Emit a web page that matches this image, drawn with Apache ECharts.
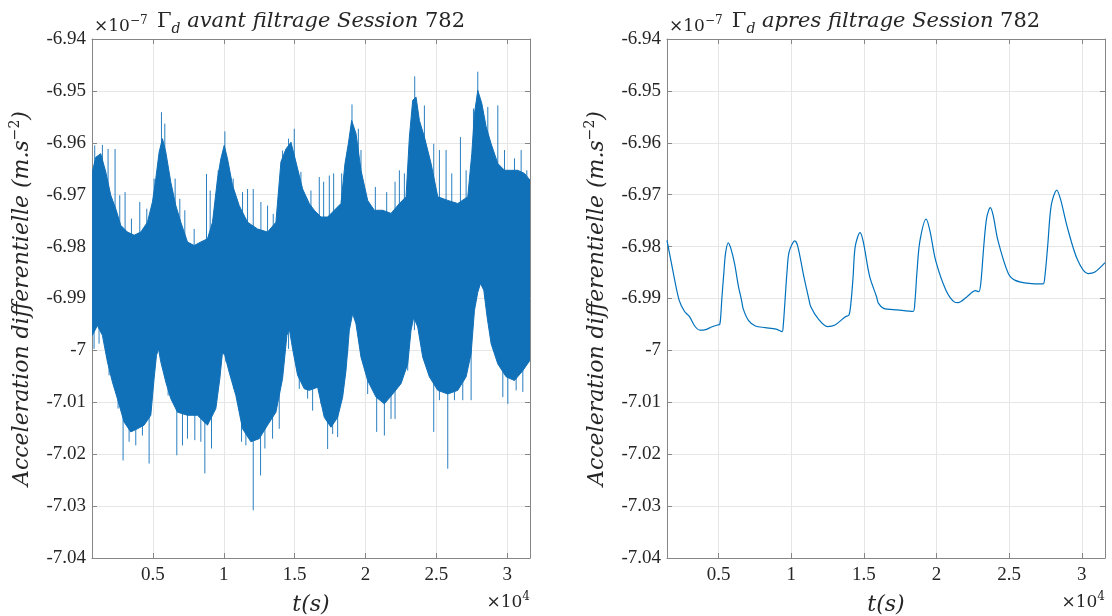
<!DOCTYPE html>
<html><head><meta charset="utf-8">
<script src="https://cdn.jsdelivr.net/npm/echarts@6/dist/echarts.min.js"></script>
<style>html,body{margin:0;padding:0;background:#fff}#c{width:1112px;height:616px}</style>
</head><body><div id="c"></div>
<script>
// Unfiltered signal, dense core of the noisy band: [t (s), value (x1e-7 m.s^-2)]
const bodyUpper = [[727,-6.9656],[963,-6.9628],[1316,-6.9621],[1669,-6.9656],[2022,-6.9701],[2375,-6.9727],[2728,-6.9759],[3199,-6.9772],[3670,-6.9778],[4141,-6.9772],[4612,-6.9753],[4965,-6.9714],[5201,-6.9669],[5436,-6.9618],[5671,-6.9592],[5907,-6.9618],[6260,-6.9676],[6613,-6.9721],[6966,-6.9753],[7436,-6.9791],[7907,-6.9798],[8378,-6.9791],[8849,-6.9785],[9202,-6.9753],[9555,-6.9669],[9790,-6.9631],[10026,-6.9605],[10262,-6.9631],[10615,-6.9682],[11085,-6.9721],[11674,-6.9753],[12380,-6.9766],[13086,-6.9772],[13675,-6.9753],[14028,-6.9637],[14381,-6.9612],[14737,-6.9599],[15087,-6.9637],[15557,-6.9689],[16029,-6.9717],[16382,-6.9730],[16853,-6.9743],[17323,-6.9743],[17794,-6.9730],[18265,-6.9717],[18547,-6.9640],[18783,-6.9602],[19018,-6.9557],[19324,-6.9582],[19677,-6.9653],[20148,-6.9711],[20619,-6.9730],[21208,-6.9730],[21796,-6.9736],[22385,-6.9717],[22855,-6.9704],[23091,-6.9589],[23326,-6.9518],[23562,-6.9512],[23797,-6.9557],[24150,-6.9589],[24621,-6.9640],[25092,-6.9704],[25798,-6.9711],[26504,-6.9717],[27210,-6.9704],[27493,-6.9621],[27681,-6.9544],[27916,-6.9499],[28199,-6.9524],[28505,-6.9569],[28858,-6.9602],[29329,-6.9640],[29800,-6.9653],[30270,-6.9653],[30741,-6.9653],[31212,-6.9659],[31600,-6.9672]];
const bodyLower = [[727,-6.9971],[1081,-6.9952],[1434,-6.9971],[1787,-7.0022],[2140,-7.0061],[2493,-7.0093],[2964,-7.0138],[3434,-7.0157],[3905,-7.0151],[4376,-7.0144],[4847,-7.0125],[5082,-7.0054],[5247,-7.0010],[5389,-6.9997],[5553,-7.0022],[5907,-7.0061],[6260,-7.0093],[6731,-7.0119],[7436,-7.0125],[8142,-7.0125],[8849,-7.0144],[9437,-7.0112],[9720,-7.0054],[9908,-7.0003],[10073,-7.0010],[10379,-7.0042],[10850,-7.0087],[11320,-7.0151],[11909,-7.0176],[12497,-7.0170],[13086,-7.0144],[13675,-7.0119],[14145,-7.0054],[14451,-6.9971],[14616,-6.9958],[14852,-6.9997],[15205,-7.0048],[15675,-7.0074],[16029,-7.0077],[16617,-7.0071],[17088,-7.0129],[17559,-7.0148],[18030,-7.0129],[18383,-7.0090],[18618,-7.0039],[18854,-6.9961],[19089,-6.9929],[19324,-6.9949],[19677,-7.0013],[20148,-7.0058],[20737,-7.0090],[21326,-7.0103],[21914,-7.0084],[22503,-7.0064],[22973,-7.0026],[23209,-6.9961],[23397,-6.9936],[23679,-6.9955],[24032,-7.0013],[24503,-7.0051],[25092,-7.0077],[25798,-7.0084],[26504,-7.0077],[27093,-7.0051],[27446,-7.0006],[27681,-6.9923],[27916,-6.9888],[28105,-6.9871],[28340,-6.9884],[28576,-6.9936],[28858,-6.9987],[29329,-7.0026],[29918,-7.0051],[30505,-7.0058],[31094,-7.0039],[31600,-7.0019]];
// Isolated noise spikes beyond the core: [t (s), tip value]
const spikesUp = [[892,-6.9605],[1434,-6.9604],[1834,-6.9612],[2328,-6.9612],[2658,-6.9701],[3034,-6.9695],[3482,-6.9746],[4070,-6.9714],[4564,-6.9727],[5082,-6.9669],[5600,-6.9541],[5836,-6.9563],[6565,-6.9669],[6895,-6.9708],[7248,-6.9730],[7907,-6.9766],[8778,-6.9660],[9037,-6.9692],[9602,-6.9653],[10073,-6.9578],[10661,-6.9669],[11320,-6.9695],[11674,-6.9689],[12074,-6.9689],[12615,-6.9714],[13086,-6.9721],[13486,-6.9737],[13910,-6.9695],[14145,-6.9615],[14568,-6.9592],[14969,-6.9573],[15440,-6.9656],[16146,-6.9692],[16735,-6.9666],[17041,-6.9675],[17441,-6.9663],[17747,-6.9659],[18312,-6.9659],[19042,-6.9526],[19489,-6.9573],[19677,-6.9614],[20690,-6.9685],[21490,-6.9695],[22079,-6.9675],[22385,-6.9653],[22738,-6.9659],[23467,-6.9472],[24150,-6.9528],[24809,-6.9602],[25209,-6.9614],[25680,-6.9614],[26080,-6.9659],[26692,-6.9589],[27093,-6.9653],[27611,-6.9534],[27916,-6.9463],[28623,-6.9531],[29329,-6.9528],[29800,-6.9614],[30505,-6.9630],[30976,-6.9614],[31376,-6.9653]];
const spikesDown = [[845,-6.9997],[1198,-6.9987],[1904,-7.0048],[2540,-7.0112],[2893,-7.0212],[3317,-7.0176],[3788,-7.0183],[4258,-7.0164],[4729,-7.0218],[6071,-7.0087],[6683,-7.0202],[7083,-7.0183],[7436,-7.0170],[7954,-7.0173],[8378,-7.0176],[8660,-7.0237],[9131,-7.0189],[10144,-7.0022],[10685,-7.0074],[11250,-7.0176],[11556,-7.0183],[12074,-7.0308],[12591,-7.0241],[12897,-7.0189],[13439,-7.0170],[13910,-7.0151],[14568,-6.9997],[15322,-7.0074],[15911,-7.0093],[16264,-7.0116],[16853,-7.0103],[17323,-7.0190],[17677,-7.0161],[18030,-7.0167],[18736,-7.0006],[19372,-6.9910],[20148,-7.0084],[20784,-7.0157],[21326,-7.0164],[21796,-7.0132],[22079,-7.0132],[22973,-7.0039],[23444,-6.9961],[24809,-7.0157],[25209,-7.0096],[25798,-7.0228],[26269,-7.0096],[26857,-7.0096],[27446,-7.0096],[29682,-7.0090],[30035,-7.0103],[30623,-7.0077],[31094,-7.0080]];
// Filtered signal [t (s), value (x1e-7 m.s^-2)]
const filtered = [[1440,-6.9788],[1800,-6.9840],[2275,-6.9903],[2650,-6.9925],[2991,-6.9935],[3350,-6.9953],[3707,-6.9961],[4100,-6.9960],[4500,-6.9955],[4900,-6.9951],[5067,-6.9950],[5150,-6.9930],[5210,-6.9903],[5350,-6.9852],[5470,-6.9813],[5663,-6.9793],[5850,-6.9805],[6093,-6.9833],[6350,-6.9875],[6570,-6.9903],[6689,-6.9920],[7047,-6.9942],[7524,-6.9953],[8200,-6.9956],[8956,-6.9959],[9362,-6.9964],[9450,-6.9950],[9552,-6.9910],[9700,-6.9850],[9850,-6.9810],[10244,-6.9789],[10450,-6.9800],[10865,-6.9858],[11223,-6.9903],[11342,-6.9916],[11819,-6.9938],[12487,-6.9954],[13012,-6.9951],[13728,-6.9935],[13967,-6.9932],[14100,-6.9910],[14250,-6.9860],[14400,-6.9800],[14730,-6.9773],[14950,-6.9790],[15398,-6.9858],[15875,-6.9897],[15995,-6.9909],[16353,-6.9919],[17307,-6.9922],[18381,-6.9925],[18500,-6.9910],[18650,-6.9850],[18850,-6.9790],[19287,-6.9747],[19550,-6.9770],[19932,-6.9826],[20648,-6.9884],[21244,-6.9907],[21482,-6.9908],[22079,-6.9897],[22675,-6.9885],[22914,-6.9887],[23050,-6.9870],[23250,-6.9800],[23450,-6.9745],[23701,-6.9725],[23900,-6.9740],[24226,-6.9788],[24942,-6.9852],[25419,-6.9865],[26374,-6.9871],[27328,-6.9872],[27450,-6.9860],[27650,-6.9800],[27900,-6.9720],[28283,-6.9691],[28550,-6.9710],[28998,-6.9762],[29714,-6.9826],[30430,-6.9852],[30907,-6.9849],[31600,-6.9831]];
// Axis ranges and ticks
const xRangeRaw = [700, 31600];
const xRangeFiltered = [1440, 31600];
const xTickValues = [5000, 10000, 15000, 20000, 25000, 30000];
const xTickLabels = ['0.5', '1', '1.5', '2', '2.5', '3'];
const yRange = [-7.04, -6.94];
const yStep = 0.01;

const AX = '#868686', GRID = '#e6e6e6', TXT = '#262626';
const TICKFONT = 'Liberation Serif';
const ITFONT = 'DejaVu Serif';
const BLUE = '#0072BD', BAND = '#1070b8', SPIKE = '#2a7fc0';

// spikes are drawn from their tip toward the inside of the core band (a level derived from the core data)
const coreLevel = (Math.min(...bodyUpper.map(p => p[1])) + Math.max(...bodyLower.map(p => p[1]))) / 2;

function xLabel(v) {
  const i = xTickValues.indexOf(Math.round(v));
  return (i >= 0 && Math.abs(v - xTickValues[i]) < 1e-6) ? xTickLabels[i] : '';
}
function yLabel(v) { return String(parseFloat(v.toFixed(2))); }

function xAxes(gi, range) {
  return [{
    type: 'value', gridIndex: gi, position: 'bottom', min: range[0], max: range[1],
    axisLine: {show: true, onZero: false, lineStyle: {color: AX, width: 1}},
    axisTick: {show: true, inside: true, length: 5, lineStyle: {color: AX}},
    axisLabel: {formatter: xLabel, color: TXT, fontFamily: TICKFONT, fontSize: 19, margin: 8},
    splitLine: {show: true, lineStyle: {color: GRID, width: 1}},
    name: '{i|t(s)}', nameLocation: 'middle', nameGap: 36,
    nameTextStyle: {rich: {i: {fontFamily: ITFONT, fontStyle: 'italic', fontSize: 22, color: TXT}}}
  }, {
    type: 'value', gridIndex: gi, position: 'top', min: range[0], max: range[1],
    axisLine: {show: true, onZero: false, lineStyle: {color: AX, width: 1}},
    axisTick: {show: true, inside: true, length: 5, lineStyle: {color: AX}},
    axisLabel: {show: false}, splitLine: {show: false}
  }];
}
function yAxes(gi) {
  return [{
    type: 'value', gridIndex: gi, position: 'left', min: yRange[0], max: yRange[1], interval: yStep,
    axisLine: {show: true, onZero: false, lineStyle: {color: AX, width: 1}},
    axisTick: {show: true, inside: true, length: 5, lineStyle: {color: AX}},
    axisLabel: {formatter: yLabel, color: TXT, fontFamily: TICKFONT, fontSize: 19, margin: 6},
    splitLine: {show: true, lineStyle: {color: GRID, width: 1}},
    name: '{i|Acceleration differentielle (m.s}{s|\u22122}{i|)}',
    nameLocation: 'middle', nameGap: 56, nameRotate: 90,
    nameTextStyle: {rich: {
      i: {fontFamily: ITFONT, fontStyle: 'italic', fontSize: 22, color: TXT, lineHeight: 28},
      s: {fontFamily: ITFONT, fontSize: 14, color: TXT, lineHeight: 15, verticalAlign: 'top'}
    }}
  }, {
    type: 'value', gridIndex: gi, position: 'right', min: yRange[0], max: yRange[1], interval: yStep,
    axisLine: {show: true, onZero: false, lineStyle: {color: AX, width: 1}},
    axisTick: {show: true, inside: true, length: 5, lineStyle: {color: AX}},
    axisLabel: {show: false}, splitLine: {show: false}
  }];
}

const xa0 = xAxes(0, xRangeRaw), xa1 = xAxes(1, xRangeFiltered);
const ya0 = yAxes(0), ya1 = yAxes(1);

const titleRich = {
  g: {fontFamily: ITFONT, fontSize: 21, fill: TXT, color: TXT, lineHeight: 28},
  sub: {fontFamily: ITFONT, fontStyle: 'italic', fontSize: 14, fill: TXT, color: TXT, lineHeight: 17, verticalAlign: 'bottom'},
  i: {fontFamily: ITFONT, fontStyle: 'italic', fontSize: 21, fill: TXT, color: TXT, lineHeight: 28},
  n: {fontFamily: ITFONT, fontSize: 21, fill: TXT, color: TXT, lineHeight: 28}
};
const expRich = {
  n: {fontFamily: ITFONT, fontSize: 17, fill: TXT, color: TXT, lineHeight: 24},
  s: {fontFamily: ITFONT, fontSize: 12, fill: TXT, color: TXT, lineHeight: 14, verticalAlign: 'top'}
};
function textEl(x, y, text, rich, align) {
  return {type: 'text', x: x, y: y, silent: true,
    style: {text: text, rich: rich, fontSize: 17, fontFamily: ITFONT, align: align, textAlign: align, verticalAlign: 'middle', textVerticalAlign: 'middle'}};
}
function spikeSeries(data) {
  return {
    type: 'custom', xAxisIndex: 0, yAxisIndex: 0, clip: true, z: 1, data: data,
    renderItem: function (params, api) {
      const tip = api.coord([api.value(0), api.value(1)]);
      const base = api.coord([api.value(0), coreLevel]);
      return {type: 'line', shape: {x1: tip[0], y1: tip[1], x2: base[0], y2: base[1]},
        style: {stroke: SPIKE, lineWidth: 1}};
    }
  };
}

const chart = echarts.init(document.getElementById('c'), null, {renderer: 'canvas'});
chart.setOption({
  animation: false,
  backgroundColor: '#fff',
  grid: [
    {left: 92, right: 582, top: 39, bottom: 58, containLabel: false, outerBoundsMode: 'none'},
    {left: 667, right: 7, top: 39, bottom: 58, containLabel: false, outerBoundsMode: 'none'}
  ],
  xAxis: [xa0[0], xa1[0], xa0[1], xa1[1]],
  yAxis: [ya0[0], ya1[0], ya0[1], ya1[1]],
  series: [
    spikeSeries(spikesUp),
    spikeSeries(spikesDown),
    {
      type: 'custom', xAxisIndex: 0, yAxisIndex: 0, clip: true, z: 2,
      data: [[bodyUpper[0][0], bodyUpper[0][1]]],
      renderItem: function (params, api) {
        const pts = bodyUpper.map(p => api.coord(p)).concat(bodyLower.slice().reverse().map(p => api.coord(p)));
        return {type: 'polygon', shape: {points: pts},
          style: {fill: BAND, stroke: BAND, lineWidth: 1}};
      }
    },
    {
      type: 'line', xAxisIndex: 1, yAxisIndex: 1, data: filtered, showSymbol: false,
      smooth: 0.3, lineStyle: {color: BLUE, width: 1.2}, itemStyle: {color: BLUE}
    }
  ],
  graphic: [
    textEl(94, 27, '{n|\u00d710}{s|\u22127}', expRich, 'left'),
    textEl(311, 22, '{g|\u0393}{sub|d}{i| avant filtrage Session }{n|782}', titleRich, 'center'),
    textEl(669, 27, '{n|\u00d710}{s|\u22127}', expRich, 'left'),
    textEl(886, 22, '{g|\u0393}{sub|d}{i| apres filtrage Session }{n|782}', titleRich, 'center'),
    textEl(530, 603, '{n|\u00d710}{s|4}', expRich, 'right'),
    textEl(1105, 603, '{n|\u00d710}{s|4}', expRich, 'right')
  ]
});
</script>
</body></html>
